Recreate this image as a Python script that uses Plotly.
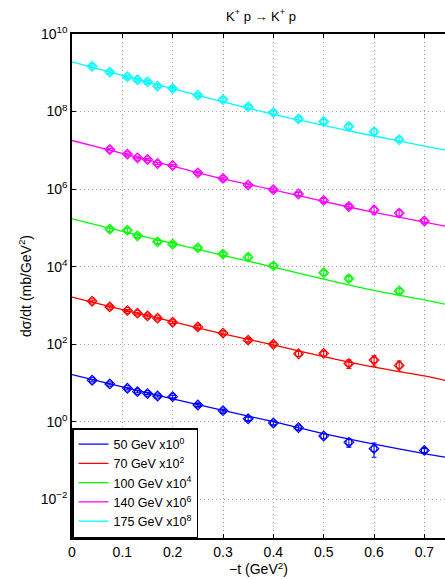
import plotly.graph_objects as go

# ---- data (unscaled dσ/dt in mb/GeV^2) ----
energies = ["50 GeV", "70 GeV", "100 GeV", "140 GeV", "175 GeV"]
exponents = [0, 2, 4, 6, 8]
colors = ["#0000FF", "#FF0000", "#00FF00", "#FF00FF", "#00FFFF"]

t_50 = [0.04, 0.075, 0.11, 0.13, 0.15, 0.17, 0.2, 0.25, 0.3, 0.35, 0.4, 0.45, 0.5, 0.55, 0.6, 0.7]
y_50 = [11.7, 9.4, 7.28, 5.96, 5.3, 4.6, 4.43, 2.70, 1.92, 1.19, 0.925, 0.700, 0.428, 0.294, 0.201, 0.182]
e_50 = [0.06, 0.06, 0.06, 0.06, 0.06, 0.06, 0.07, 0.08, 0.08, 0.10, 0.10, 0.12, 0.15, 0.25, 0.40, 0.12]

t_70 = [0.04, 0.075, 0.11, 0.13, 0.15, 0.17, 0.2, 0.25, 0.3, 0.35, 0.4, 0.45, 0.5, 0.55, 0.6, 0.65]
y_70 = [12.8, 9.14, 7.35, 6.30, 5.36, 4.67, 3.68, 2.79, 1.93, 1.27, 0.995, 0.565, 0.576, 0.315, 0.388, 0.282]
e_70 = [0.06, 0.06, 0.06, 0.06, 0.06, 0.06, 0.07, 0.08, 0.08, 0.10, 0.10, 0.15, 0.15, 0.25, 0.30, 0.30]

t_100 = [0.075, 0.11, 0.13, 0.17, 0.2, 0.25, 0.3, 0.35, 0.4, 0.5, 0.55, 0.65]
y_100 = [9.27, 8.73, 6.22, 4.36, 3.79, 3.05, 2.10, 1.75, 1.05, 0.695, 0.491, 0.235]
e_100 = [0.15, 0.12, 0.10, 0.10, 0.10, 0.10, 0.12, 0.15, 0.15, 0.15, 0.15, 0.15]

t_140 = [0.075, 0.11, 0.13, 0.15, 0.17, 0.2, 0.25, 0.3, 0.35, 0.4, 0.45, 0.5, 0.55, 0.6, 0.65, 0.7]
y_140 = [10.5, 7.98, 6.41, 5.79, 4.57, 4.06, 2.63, 1.88, 1.27, 0.965, 0.748, 0.510, 0.355, 0.289, 0.240, 0.150]
e_140 = [0.06, 0.06, 0.06, 0.06, 0.06, 0.06, 0.07, 0.08, 0.08, 0.10, 0.10, 0.12, 0.12, 0.25, 0.20, 0.15]

t_175 = [0.04, 0.075, 0.11, 0.13, 0.15, 0.17, 0.2, 0.25, 0.3, 0.35, 0.4, 0.45, 0.5, 0.55, 0.6, 0.65]
y_175 = [14.6, 10.4, 7.9, 6.6, 5.8, 4.5, 3.9, 2.66, 2.03, 1.33, 0.94, 0.645, 0.553, 0.411, 0.303, 0.188]
e_175 = [0.08, 0.08, 0.08, 0.08, 0.08, 0.08, 0.08, 0.08, 0.10, 0.10, 0.10, 0.12, 0.12, 0.15, 0.20, 0.15]

# fit curves
t_fit = [0.0, 0.1, 0.2, 0.3, 0.4, 0.5, 0.6, 0.7, 0.75]
fit_50 = [16.3, 7.94, 3.89, 1.95, 1.0, 0.49, 0.263, 0.151, 0.117]
fit_70 = [16.3, 7.76, 3.80, 1.84, 0.955, 0.476, 0.254, 0.151, 0.110]
fit_100 = [17.1, 8.13, 3.98, 1.95, 0.977, 0.479, 0.245, 0.138, 0.102]
fit_140 = [17.9, 8.32, 3.89, 1.82, 0.955, 0.479, 0.251, 0.141, 0.105]
fit_175 = [19.1, 8.51, 3.89, 1.78, 0.851, 0.437, 0.234, 0.129, 0.0955]

x_ticks = [0, 0.1, 0.2, 0.3, 0.4, 0.5, 0.6, 0.7]
x_ticklabels = ["0", "0.1", "0.2", "0.3", "0.4", "0.5", "0.6", "0.7"]
y_tick_exps = [-2, 0, 2, 4, 6, 8, 10]

series_t = [t_50, t_70, t_100, t_140, t_175]
series_y = [y_50, y_70, y_100, y_140, y_175]
series_e = [e_50, e_70, e_100, e_140, e_175]
series_fit = [fit_50, fit_70, fit_100, fit_140, fit_175]

FONT = "Liberation Sans, Arial, Helvetica, sans-serif"

fig = go.Figure()

for i in range(5):
    s = 10 ** exponents[i]
    ys = [v * s for v in series_y[i]]
    errs = [v * s * f for v, f in zip(series_y[i], series_e[i])]
    fig.add_trace(go.Scatter(
        x=series_t[i], y=ys, mode="markers", showlegend=False,
        marker=dict(symbol="circle-open", size=6, color=colors[i], line=dict(width=1.1)),
        error_y=dict(type="data", array=errs, arrayminus=errs, color=colors[i],
                     thickness=1.1, width=2.5),
        hoverinfo="skip",
    ))
    fig.add_trace(go.Scatter(
        x=series_t[i], y=ys, mode="markers", showlegend=False,
        marker=dict(symbol="diamond-open", size=7.5, color=colors[i], line=dict(width=1.1)),
        hoverinfo="skip",
    ))

for i in range(5):
    s = 10 ** exponents[i]
    fig.add_trace(go.Scatter(
        x=t_fit, y=[v * s for v in series_fit[i]], mode="lines",
        line=dict(color=colors[i], width=1.3, shape="spline", smoothing=0.8),
        name=f"{energies[i]} x10<sup>{exponents[i]}</sup>",
    ))

def sup(e):
    txt = str(e).replace("-", "\u2212")
    return f"10<sup>{txt}</sup>"

fig.update_layout(
    width=445, height=579,
    margin=dict(l=72, r=0, t=34, b=41),
    paper_bgcolor="white", plot_bgcolor="white",
    font=dict(family=FONT, size=14, color="black"),
    hovermode=False,
    title=dict(text="K<sup>+</sup> p \u2192 K<sup>+</sup> p", x=261 / 445, xanchor="center",
               y=1 - 16 / 579, yanchor="middle", xref="container", yref="container",
               font=dict(size=13, family=FONT)),
    showlegend=True,
    legend=dict(x=0, y=0, xanchor="left", yanchor="bottom",
                bgcolor="white", bordercolor="black", borderwidth=1.5,
                font=dict(size=12.5, family=FONT), traceorder="normal",
                itemwidth=30, tracegroupgap=0),
    xaxis=dict(range=[0, 0.741], tickvals=x_ticks, ticktext=x_ticklabels,
               showgrid=True, gridcolor="#a8a8a8", griddash="1px,3px", gridwidth=1,
               showline=True, linecolor="black", linewidth=1.5, mirror="ticks",
               ticks="inside", ticklen=4, tickcolor="black", zeroline=False,
               tickfont=dict(size=14),
               title=dict(text="\u2212t (GeV<sup>2</sup>)", standoff=6, font=dict(size=14))),
    yaxis=dict(type="log", range=[-3, 10],
               tickvals=[10 ** e for e in y_tick_exps], ticktext=[sup(e) for e in y_tick_exps],
               showgrid=True, gridcolor="#a8a8a8", griddash="1px,3px", gridwidth=1,
               showline=True, linecolor="black", linewidth=1.5, mirror=False,
               ticks="inside", ticklen=4, tickcolor="black", zeroline=False,
               tickfont=dict(size=14),
               title=dict(text="d\u03c3/dt (mb/GeV<sup>2</sup>)", standoff=6, font=dict(size=14))),
)

fig.write_html("out.html", config={"displayModeBar": False},
               post_script="document.body.style.margin='0';")
